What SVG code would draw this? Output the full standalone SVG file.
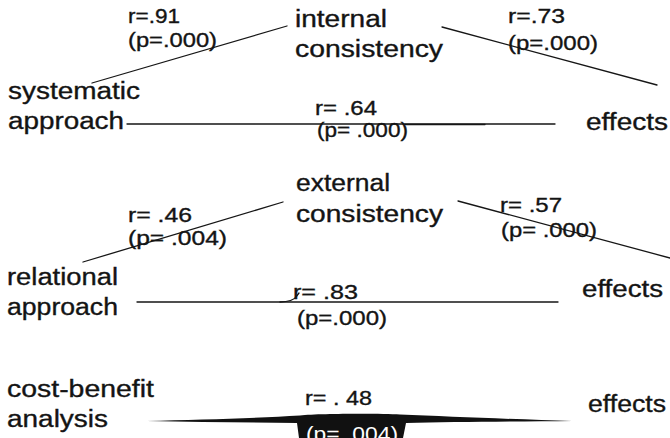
<svg xmlns="http://www.w3.org/2000/svg" width="670" height="438" viewBox="0 0 670 438">
<style>
  text { font-family: "Liberation Sans", Arial, Helvetica, sans-serif; fill: #141414; stroke: #141414; stroke-width: 0.35; }
  .node { font-size: 23px; }
  .stat { font-size: 20px; }
  .ln { stroke: #161616; stroke-width: 1.3; fill: none; stroke-linecap: round; }
  .inv { fill: #ffffff; stroke: none; }
</style>
<rect width="670" height="438" fill="#ffffff"/>

<g id="connectors">
  <line class="ln" x1="92" y1="83" x2="287" y2="26"/>
  <line class="ln" x1="442" y1="27" x2="657" y2="85"/>
  <line class="ln" x1="127" y1="124" x2="555" y2="124" stroke-width="1.1"/>
  <line class="ln" x1="405" y1="124.5" x2="485" y2="124.5" stroke-width="2.2"/>
  <line class="ln" x1="83" y1="262" x2="283" y2="202"/>
  <line class="ln" x1="458" y1="201" x2="670" y2="258"/>
  <line class="ln" x1="137" y1="302" x2="558" y2="302" stroke-width="1.6"/>
  <path class="ln" d="M280,302 C290,301.5 294,300 296,297 L299,293"/>
  <path d="M147,421 C200,419.5 260,418 300,415.5 C320,413.5 380,413.5 400,414.5 C450,416.5 520,419.5 572,421 C520,421.5 450,422 406,423 L403,438 L299,438 L297,423 C250,422.5 200,422 147,421 Z" fill="#111"/>

  <g id="labels">
    <text class="stat" x="128" y="23" textLength="52" lengthAdjust="spacingAndGlyphs">r=.91</text>
    <text class="stat" x="128" y="47" textLength="89" lengthAdjust="spacingAndGlyphs">(p=.000)</text>
    <text class="stat" x="508" y="23" textLength="57" lengthAdjust="spacingAndGlyphs">r=.73</text>
    <text class="stat" x="508" y="50" textLength="90" lengthAdjust="spacingAndGlyphs">(p=.000)</text>
    <text class="stat" x="315" y="115" textLength="62" lengthAdjust="spacingAndGlyphs">r= .64</text>
    <text class="stat" x="317" y="137" textLength="91" lengthAdjust="spacingAndGlyphs">(p= .000)</text>
    <text class="stat" x="128" y="222" textLength="64" lengthAdjust="spacingAndGlyphs">r= .46</text>
    <text class="stat" x="128" y="245" textLength="99" lengthAdjust="spacingAndGlyphs">(p= .004)</text>
    <text class="stat" x="500" y="212" textLength="62" lengthAdjust="spacingAndGlyphs">r= .57</text>
    <text class="stat" x="501" y="237" textLength="96" lengthAdjust="spacingAndGlyphs">(p= .000)</text>
    <text class="stat" x="293" y="299" textLength="65" lengthAdjust="spacingAndGlyphs">r= .83</text>
    <text class="stat" x="297" y="325" textLength="90" lengthAdjust="spacingAndGlyphs">(p=.000)</text>
    <text class="stat" x="305" y="405" textLength="67" lengthAdjust="spacingAndGlyphs">r= . 48</text>
    <text class="stat inv" x="306" y="441" textLength="92" lengthAdjust="spacingAndGlyphs">(p= .004)</text>
  </g>
</g>

<g id="internal-consistency">
  <text class="node" x="295" y="27" textLength="92" lengthAdjust="spacingAndGlyphs">internal</text>
  <text class="node" x="295" y="57" textLength="148" lengthAdjust="spacingAndGlyphs">consistency</text>
</g>
<g id="systematic-approach">
  <text class="node" x="8" y="99" textLength="132" lengthAdjust="spacingAndGlyphs">systematic</text>
  <text class="node" x="8" y="129" textLength="116" lengthAdjust="spacingAndGlyphs">approach</text>
</g>
<g id="effects-1">
  <text class="node" x="586" y="130" textLength="82" lengthAdjust="spacingAndGlyphs">effects</text>
</g>
<g id="external-consistency">
  <text class="node" x="296" y="191" textLength="94" lengthAdjust="spacingAndGlyphs">external</text>
  <text class="node" x="296" y="222" textLength="147" lengthAdjust="spacingAndGlyphs">consistency</text>
</g>
<g id="relational-approach">
  <text class="node" x="7" y="285" textLength="111" lengthAdjust="spacingAndGlyphs">relational</text>
  <text class="node" x="7" y="315" textLength="111" lengthAdjust="spacingAndGlyphs">approach</text>
</g>
<g id="effects-2">
  <text class="node" x="582" y="297" textLength="81" lengthAdjust="spacingAndGlyphs">effects</text>
</g>
<g id="cost-benefit-analysis">
  <text class="node" x="7" y="397" textLength="147" lengthAdjust="spacingAndGlyphs">cost-benefit</text>
  <text class="node" x="7" y="427" textLength="101" lengthAdjust="spacingAndGlyphs">analysis</text>
</g>
<g id="effects-3">
  <text class="node" x="588" y="412" textLength="78" lengthAdjust="spacingAndGlyphs">effects</text>
</g>
</svg>
